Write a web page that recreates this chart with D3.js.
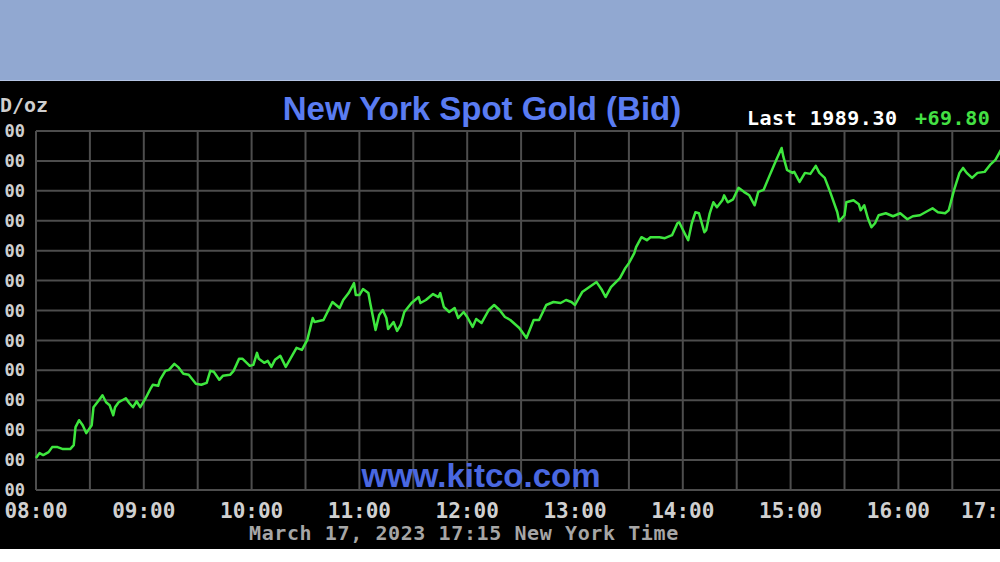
<!DOCTYPE html>
<html>
<head>
<meta charset="utf-8">
<script src="https://cdn.jsdelivr.net/npm/d3@7"></script>
<style>
  body { margin: 0; background: #fff; }
  svg { display: block; }
</style>
</head>
<body>
<svg id="chart" width="1000" height="562"></svg>
<script>

// New York spot gold, March 17 2023
var times = ["08:00","08:02","08:04","08:07","08:09","08:12","08:15","08:19","08:21","08:22",
	"08:24","08:26","08:28","08:31","08:32","08:35","08:37","08:39","08:41","08:43",
	"08:44","08:46","08:50","08:52","08:54","08:56","08:58","09:01","09:04","09:05",
	"09:08","09:09","09:12","09:14","09:17","09:19","09:22","09:25","09:29","09:32",
	"09:35","09:37","09:39","09:42","09:44","09:48","09:50","09:53","09:55","09:59",
	"10:01","10:03","10:04","10:07","10:09","10:11","10:13","10:16","10:19","10:25",
	"10:28","10:31","10:34","10:35","10:40","10:45","10:49","10:51","10:54","10:57",
	"10:58","11:00","11:02","11:05","11:06","11:09","11:11","11:13","11:15","11:16",
	"11:19","11:21","11:23","11:25","11:29","11:33","11:34","11:37","11:41","11:44",
	"11:45","11:47","11:50","11:53","11:55","11:58","12:00","12:03","12:05","12:08",
	"12:12","12:15","12:18","12:21","12:24","12:29","12:33","12:37","12:40","12:44",
	"12:48","12:52","12:55","12:58","13:00","13:04","13:08","13:12","13:15","13:17",
	"13:20","13:25","13:28","13:30","13:33","13:34","13:37","13:40","13:42","13:47",
	"13:50","13:54","13:57","13:58","14:01","14:03","14:05","14:07","14:09","14:12",
	"14:13","14:15","14:17","14:19","14:22","14:23","14:25","14:28","14:31","14:34",
	"14:37","14:40","14:42","14:45","14:48","14:52","14:55","14:56","14:58","15:01",
	"15:02","15:05","15:08","15:11","15:14","15:16","15:19","15:22","15:26","15:27",
	"15:30","15:31","15:35","15:38","15:39","15:41","15:43","15:45","15:47","15:49",
	"15:53","15:57","16:01","16:05","16:08","16:12","16:17","16:19","16:22","16:26",
	"16:28","16:31","16:34","16:36","16:38","16:41","16:44","16:48","16:51","16:54",
	"16:58","17:15"];

var prices = [1926.4,1927.4,1927.0,1927.6,1928.6,1928.6,1928.2,1928.2,1929.0,1932.6,
	1934.0,1933.0,1931.4,1933.0,1936.6,1938.0,1939.0,1937.6,1937.0,1935.0,
	1936.6,1937.6,1938.4,1937.4,1936.6,1937.8,1936.6,1938.4,1940.5,1941.1,
	1940.9,1942.1,1943.9,1944.1,1945.3,1944.7,1943.3,1943.1,1941.3,1941.1,
	1941.5,1943.9,1943.7,1942.1,1942.9,1943.1,1943.9,1946.3,1946.3,1944.9,
	1945.1,1947.5,1946.3,1945.5,1945.9,1944.7,1946.1,1946.9,1944.7,1948.5,
	1948.1,1950.1,1954.5,1953.7,1954.1,1957.7,1956.5,1958.1,1959.5,1961.5,
	1959.1,1959.1,1960.3,1959.5,1957.5,1952.1,1955.1,1956.1,1954.5,1952.3,
	1953.7,1951.9,1953.1,1955.7,1957.5,1958.7,1957.5,1958.1,1959.3,1958.7,
	1959.5,1956.7,1955.7,1956.5,1954.5,1955.7,1954.7,1952.7,1954.3,1953.5,
	1956.1,1957.1,1956.1,1954.7,1954.1,1952.5,1950.5,1954.1,1954.1,1957.1,
	1957.7,1957.5,1958.1,1957.7,1957.1,1959.7,1960.7,1961.7,1960.1,1958.7,
	1960.7,1962.5,1964.5,1965.5,1967.5,1968.7,1970.7,1970.1,1970.7,1970.7,
	1970.5,1971.1,1973.5,1973.7,1971.5,1970.1,1973.5,1975.7,1975.5,1971.7,
	1972.1,1975.5,1977.7,1976.7,1978.1,1979.1,1977.7,1978.3,1980.6,1979.8,
	1979.1,1977.1,1979.8,1980.2,1982.8,1986.2,1988.6,1986.8,1984.2,1983.6,
	1983.8,1981.8,1983.6,1983.4,1985.0,1983.6,1982.6,1979.8,1975.7,1973.9,
	1975.1,1977.7,1978.1,1977.3,1976.1,1977.1,1974.5,1972.7,1973.5,1975.1,
	1975.5,1974.9,1975.5,1974.3,1974.9,1975.1,1976.1,1976.5,1975.7,1975.5,
	1976.1,1980.2,1983.6,1984.6,1983.6,1982.6,1983.6,1983.8,1985.2,1986.2,
	1988.8,1989.3];

var priceTicks = [1920, 1926, 1932, 1938, 1944, 1950, 1956, 1962, 1968, 1974, 1980, 1986, 1992];
var hourLabels = ["08:00","09:00","10:00","11:00","12:00","13:00","14:00","15:00","16:00","17:00"];

var titleText = "New York Spot Gold (Bid)";
var lastText = "Last 1989.30";
var changeText = "+69.80";
var dateText = "March 17, 2023 17:15 New York Time";
var unitText = "D/oz";   // "USD/oz", cropped at the left edge in the picture
var siteText = "www.kitco.com";

var parseTime = d3.timeParse("%H:%M");
var data = times.map(function(t, i) {
	return {time: parseTime(t), price: prices[i]};
});

var svg = d3.select("#chart");
var mono = "'DejaVu Sans Mono', 'Liberation Mono', monospace";

// pixel positions of the (cropped) kitco plot box
var plotLeft = 36, plotTop = 131, plotBottom = 490, hourW = 107.8;

var x = d3.scaleTime()
	.domain([parseTime("08:00"), parseTime("17:00")])
	.range([plotLeft, plotLeft + 9 * hourW]);

var y = d3.scaleLinear()
	.domain([priceTicks[0], priceTicks[priceTicks.length - 1]])
	.range([plotBottom, plotTop]);

// backgrounds
svg.append("rect").attr("x", 0).attr("y", 0).attr("width", 1000).attr("height", 80).attr("fill", "#91a8d1");
svg.append("rect").attr("x", 0).attr("y", 80).attr("width", 1000).attr("height", 1).attr("fill", "#b4c4e2");
svg.append("rect").attr("x", 0).attr("y", 81).attr("width", 1000).attr("height", 468).attr("fill", "#000");

// grid
var halfHours = d3.timeMinute.every(30).range(parseTime("08:00"), parseTime("17:31"));

svg.append("g").attr("class", "vgrid")
	.selectAll("line")
	.data(halfHours)
	.join("line")
	.attr("x1", function(d) { return x(d); })
	.attr("x2", function(d) { return x(d); })
	.attr("y1", plotTop)
	.attr("y2", plotBottom)
	.attr("stroke", "#4d4d4d")
	.attr("stroke-width", 2);

svg.append("g").attr("class", "hgrid")
	.selectAll("line")
	.data(priceTicks)
	.join("line")
	.attr("x1", plotLeft)
	.attr("x2", 1000)
	.attr("y1", function(d) { return y(d); })
	.attr("y2", function(d) { return y(d); })
	.attr("stroke", "#4d4d4d")
	.attr("stroke-width", 2);

// price labels: only the last two digits are inside the crop
svg.append("g").attr("class", "ylabels")
	.selectAll("text")
	.data(priceTicks)
	.join("text")
	.attr("x", 25)
	.attr("y", function(d) { return y(d); })
	.attr("dy", "0.36em")
	.attr("text-anchor", "end")
	.attr("font-family", mono)
	.attr("font-weight", "bold")
	.attr("font-size", 17)
	.attr("fill", "#cfcfcf")
	.text(function(d) { return d3.format(".2f")(d).slice(-2); });

svg.append("text")
	.attr("x", 0).attr("y", 112)
	.attr("font-family", mono).attr("font-weight", "bold").attr("font-size", 20)
	.attr("fill", "#cfcfcf")
	.text(unitText);

// hour labels (the last one only shows "17:" before the right edge)
function cutOff(d) { return x(parseTime(d)) + 32 > 1000; }

svg.append("g").attr("class", "xlabels")
	.selectAll("text")
	.data(hourLabels)
	.join("text")
	.attr("x", function(d) { return cutOff(d) ? 999 : x(parseTime(d)); })
	.attr("y", 518)
	.attr("text-anchor", function(d) { return cutOff(d) ? "end" : "middle"; })
	.attr("font-family", mono)
	.attr("font-weight", "bold")
	.attr("font-size", 21)
	.attr("fill", "#d0d0d0")
	.text(function(d) { return cutOff(d) ? d.slice(0, 3) : d; });

// watermark
svg.append("text")
	.attr("x", 481).attr("y", 487)
	.attr("text-anchor", "middle")
	.attr("font-family", "'Liberation Sans', Arial, sans-serif")
	.attr("font-weight", "bold")
	.attr("font-size", 33)
	.attr("fill", "#4a68e0")
	.text(siteText);

// price line
var line = d3.line()
	.x(function(d) { return x(d.time); })
	.y(function(d) { return y(d.price); });

svg.append("path")
	.datum(data)
	.attr("d", line)
	.attr("fill", "none")
	.attr("stroke", "#3ee63e")
	.attr("stroke-width", 2.5)
	.attr("stroke-linejoin", "round");

// title + last price
svg.append("text")
	.attr("x", 482).attr("y", 120)
	.attr("text-anchor", "middle")
	.attr("font-family", "'Liberation Sans', Arial, sans-serif")
	.attr("font-weight", "bold")
	.attr("font-size", 33)
	.attr("fill", "#5a7cf2")
	.text(titleText);

var last = svg.append("text")
	.attr("y", 125)
	.attr("font-family", mono)
	.attr("font-weight", "bold")
	.attr("font-size", 20)
	.attr("letter-spacing", 0.5);
last.append("tspan").attr("x", 747).attr("fill", "#ffffff").text(lastText);
last.append("tspan").attr("x", 915).attr("fill", "#44e044").text(changeText);

svg.append("text")
	.attr("x", 249).attr("y", 540)
	.attr("font-family", mono)
	.attr("font-weight", "bold")
	.attr("font-size", 20)
	.attr("letter-spacing", 0.6)
	.attr("fill", "#a6a6a6")
	.text(dateText);

</script>
</body>
</html>
